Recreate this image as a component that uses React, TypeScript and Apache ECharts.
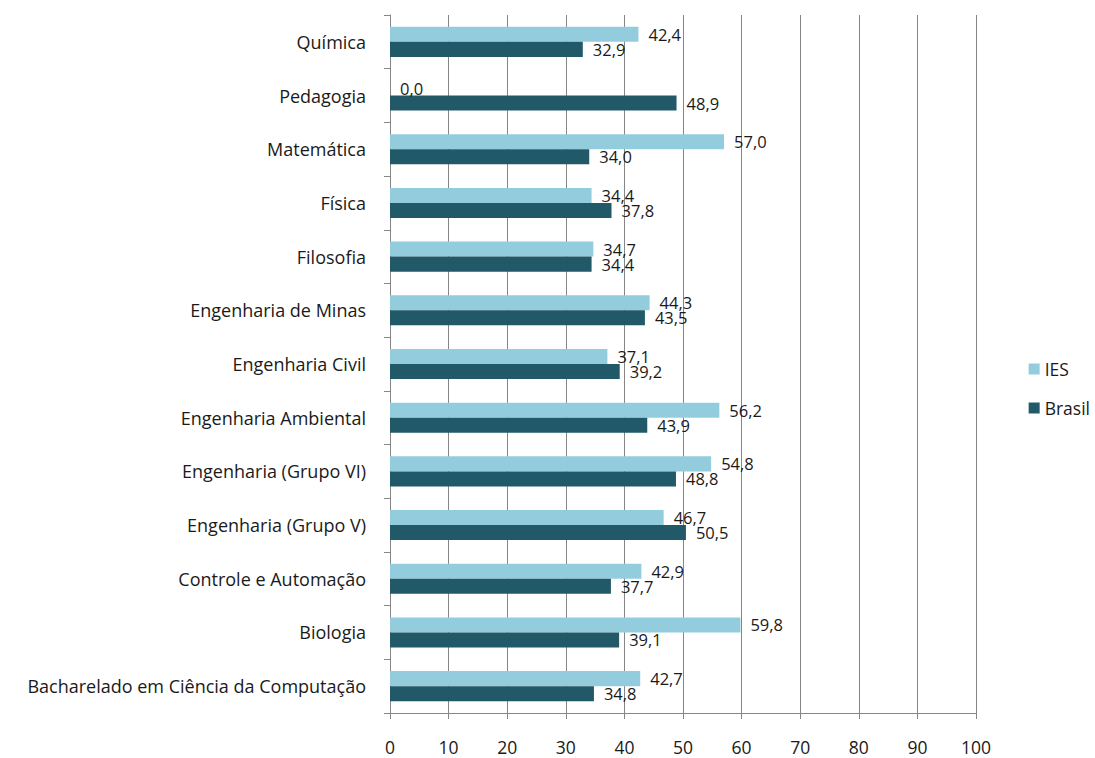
import React, { useEffect, useRef } from "react";
import * as echarts from "echarts";

const categories = [
  "Bacharelado em Ciência da Computação",
  "Biologia",
  "Controle e Automação",
  "Engenharia (Grupo V)",
  "Engenharia (Grupo VI)",
  "Engenharia Ambiental",
  "Engenharia Civil",
  "Engenharia de Minas",
  "Filosofia",
  "Física",
  "Matemática",
  "Pedagogia",
  "Química",
];
const iesValues = [42.7, 59.8, 42.9, 46.7, 54.8, 56.2, 37.1, 44.3, 34.7, 34.4, 57.0, 0.0, 42.4];
const brasilValues = [34.8, 39.1, 37.7, 50.5, 48.8, 43.9, 39.2, 43.5, 34.4, 37.8, 34.0, 48.9, 32.9];
const seriesNames = ["IES", "Brasil"];

const FONT = "'Open Sans', sans-serif";

export default function App() {
  const ref = useRef<HTMLDivElement>(null);
  useEffect(() => {
    if (!ref.current) return;
    const chart = echarts.init(ref.current, null, { renderer: "svg" });
    const fmt = (p: any) => Number(p.value).toFixed(1).replace(".", ",");
    const label = {
      show: true,
      position: "right",
      distance: 10,
      formatter: fmt,
      color: "#1a1a1a",
      fontSize: 16.5,
      fontFamily: FONT,
    };
    chart.setOption({
      animation: false,
      backgroundColor: "#ffffff",
      grid: { left: 390, right: 119, top: 15, bottom: 45, containLabel: false },
      legend: {
        orient: "vertical",
        right: 0,
        top: 355,
        itemWidth: 11,
        itemHeight: 11,
        itemGap: 21,
        icon: "rect",
        data: seriesNames,
        textStyle: { fontSize: 17.5, fontFamily: FONT, color: "#1a1a1a" },
      },
      xAxis: {
        type: "value",
        min: 0,
        max: 100,
        interval: 10,
        axisLine: { show: true, lineStyle: { color: "#868686", width: 1 } },
        axisTick: { show: true, length: 6, lineStyle: { color: "#868686" } },
        axisLabel: { fontSize: 17.5, fontFamily: FONT, color: "#1a1a1a", margin: 25 },
        splitLine: { show: true, lineStyle: { color: "#868686", width: 1 } },
      },
      yAxis: {
        type: "category",
        data: categories,
        axisLine: { show: true, lineStyle: { color: "#868686", width: 1 } },
        axisTick: { show: true, length: 6, lineStyle: { color: "#868686" } },
        axisLabel: { fontSize: 18, fontFamily: FONT, color: "#1a1a1a", margin: 24 },
      },
      series: [
        {
          name: "IES",
          type: "bar",
          data: iesValues,
          itemStyle: { color: "#93CDDD" },
          barGap: "0%",
          barCategoryGap: "44%",
          label,
        },
        {
          name: "Brasil",
          type: "bar",
          data: brasilValues,
          itemStyle: { color: "#215968" },
          barGap: "0%",
          barCategoryGap: "44%",
          label,
        },
      ],
    });
    return () => chart.dispose();
  }, []);
  return (
    <div
      ref={ref}
      style={{ position: "fixed", left: 0, top: 0, width: 1095, height: 758 }}
    />
  );
}
